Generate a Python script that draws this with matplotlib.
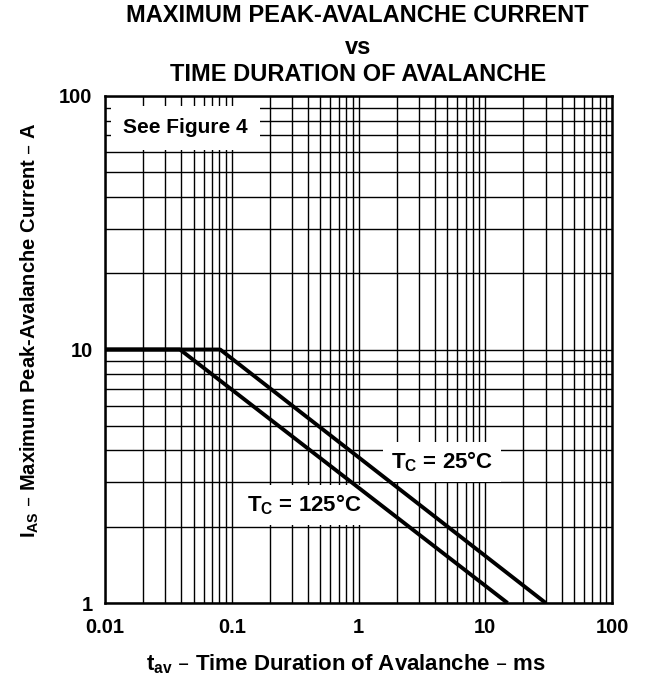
import numpy as np
import matplotlib.pyplot as plt

plt.rcParams['font.family'] = ['Liberation Sans', 'DejaVu Sans']
plt.rcParams['font.weight'] = 'bold'
plt.rcParams['mathtext.default'] = 'regular'

# avalanche current limit, flat then falling on log-log
t_25 = [0.01, 0.081, 30.0]
i_25 = [10.0, 10.0, 1.0]
t_125 = [0.01, 0.039, 15.0]
i_125 = [10.0, 10.0, 1.0]

xticks = [0.01, 0.1, 1, 10, 100]
xtick_labels = ['0.01', '0.1', '1', '10', '100']
yticks = [1, 10, 100]
ytick_labels = ['1', '10', '100']

fig = plt.figure(figsize=(6.49, 6.77), dpi=100)
ax = fig.add_axes([0.1618, 0.1093, 0.7812, 0.7489])

ax.plot(t_25, i_25, color='black', lw=2.8, solid_capstyle='butt', zorder=6)
ax.plot(t_125, i_125, color='black', lw=2.8, solid_capstyle='butt', zorder=6)

ax.set_xscale('log')
ax.set_yscale('log')
ax.set_xlim(0.01, 100)
ax.set_ylim(1, 100)
ax.set_xticks(xticks)
ax.set_xticklabels(xtick_labels)
ax.set_yticks(yticks)
ax.set_yticklabels(ytick_labels)
ax.tick_params(which='both', length=0, labelsize=14.5)
ax.tick_params(axis='x', pad=11)
ax.tick_params(axis='y', pad=9)
ax.grid(which='both', color='black', lw=1.0)
ax.set_axisbelow(True)
for s in ax.spines.values():
    s.set_linewidth(1.8)

ax.set_xlabel('$t_{av}$ – Time Duration of Avalanche – ms', fontsize=16,
              fontweight='bold')
ax.set_ylabel('$I_{AS}$ – Maximum Peak-Avalanche Current – A', fontsize=14.5,
              fontweight='bold')
ax.xaxis.set_label_coords(0.475, -0.097)
ax.yaxis.set_label_coords(-0.127, 0.538)

ax.text(0.01387, 74.8, 'See Figure 4', fontsize=15, fontweight='bold',
        va='center', ha='left', zorder=5,
        bbox=dict(facecolor='white', edgecolor='none', boxstyle='square,pad=0.6'))
ax.text(4.56, 3.6, '$T_C$ = 25°C', fontsize=16, fontweight='bold',
        va='center', ha='center', zorder=5,
        bbox=dict(facecolor='white', edgecolor='none', boxstyle='square,pad=0.35'))
ax.text(0.372, 2.44, '$T_C$ = 125°C', fontsize=16, fontweight='bold',
        va='center', ha='center', zorder=5,
        bbox=dict(facecolor='white', edgecolor='none', boxstyle='square,pad=0.35'))

fig.text(0.551, 0.977, 'MAXIMUM PEAK-AVALANCHE CURRENT', fontsize=17,
         fontweight='bold', ha='center', va='center')
fig.text(0.551, 0.930, 'vs', fontsize=17, fontweight='bold',
         ha='center', va='center')
fig.text(0.551, 0.890, 'TIME DURATION OF AVALANCHE', fontsize=17,
         fontweight='bold', ha='center', va='center')

fig.savefig('out.png', dpi=100)
